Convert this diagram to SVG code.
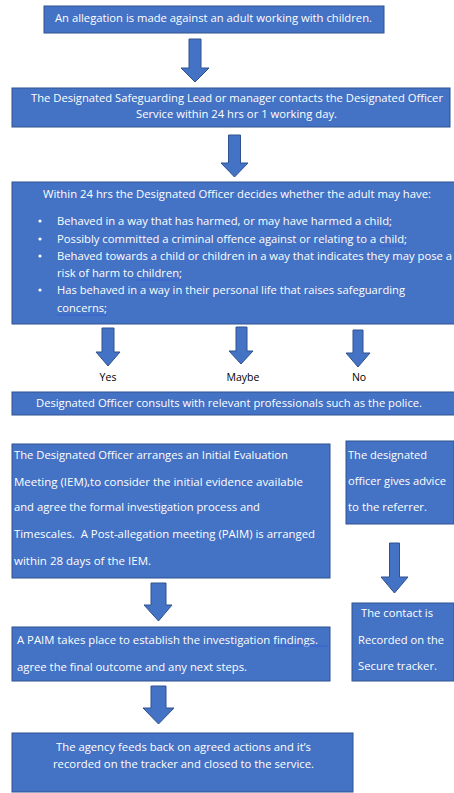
<svg xmlns="http://www.w3.org/2000/svg" width="454" height="793" viewBox="0 0 454 793">
<style>
.box{fill:#4472C4;stroke:#2F528F;stroke-width:1}
.arr{fill:#4472C4;stroke:#2F528F;stroke-width:1}
text{font-family:"Open Sans","Liberation Sans",sans-serif;font-size:10.5px;fill:#ffffff}
.c{text-anchor:middle}
.lbl{fill:#000000}
.sp{stroke:#3b5fd6;stroke-width:1;fill:none}
.pre{white-space:pre}
</style>
<rect width="454" height="793" fill="#ffffff"/>
<g id="connectors">
<polygon class="arr" points="189,39 201,39 201,68 209,68 195,82 181,68 189,68"/>
<polygon class="arr" points="228.5,135 240.5,135 240.5,163 248,163 234.5,177 221,163 228.5,163"/>
<polygon class="arr" points="102,328 114,328 114,352 120,352 108,366 96,352 102,352"/>
<polygon class="arr" points="236,327 247,327 247,351 253,351 241,364 229,351 236,351"/>
<polygon class="arr" points="353,330 363,330 363,353 370,353 358,367 346,353 353,353"/>
<polygon class="arr" points="389.5,543 399.5,543 399.5,577 408,577 394.5,593 381,577 389.5,577"/>
<polygon class="arr" points="151,583 166,583 166,605 172,605 158.5,621 144,605 151,605"/>
<polygon class="arr" points="151,686 166,686 166,708 174,708 158.5,724 143,708 151,708"/>
</g>
<g id="labels">
<text class="c lbl" x="108" y="381">Yes</text>
<text class="c lbl" x="243" y="381">Maybe</text>
<text class="c lbl" x="359" y="381">No</text>
</g>
<g id="n1">
<rect class="box" x="44" y="6" width="340" height="27"/>
<text class="c" x="213.5" y="22" textLength="317" lengthAdjust="spacingAndGlyphs">An allegation is made against an adult working with children.</text>
</g>
<g id="n2">
<rect class="box" x="12" y="88" width="438" height="39"/>
<text class="c" x="237" y="102" textLength="412" lengthAdjust="spacingAndGlyphs">The Designated Safeguarding Lead or manager contacts the Designated Officer</text>
<text class="c" x="236.5" y="118" textLength="201" lengthAdjust="spacingAndGlyphs">Service within 24 hrs or 1 working day.</text>
</g>
<g id="n3">
<rect class="box" x="12" y="182" width="443" height="142"/>
<text class="c" x="237" y="198" textLength="388" lengthAdjust="spacingAndGlyphs">Within 24 hrs the Designated Officer decides whether the adult may have:</text>
<circle cx="40" cy="221" r="1.6" fill="#ffffff"/>
<circle cx="40" cy="239" r="1.6" fill="#ffffff"/>
<circle cx="40" cy="256" r="1.6" fill="#ffffff"/>
<circle cx="40" cy="290" r="1.6" fill="#ffffff"/>
<text x="57" y="225" textLength="335" lengthAdjust="spacingAndGlyphs">Behaved in a way that has harmed, or may have harmed a child;</text>
<text x="57" y="243" textLength="350" lengthAdjust="spacingAndGlyphs">Possibly committed a criminal offence against or relating to a child;</text>
<text x="57" y="260" textLength="395" lengthAdjust="spacingAndGlyphs">Behaved towards a child or children in a way that indicates they may pose a</text>
<text x="57" y="277" textLength="125" lengthAdjust="spacingAndGlyphs">risk of harm to children;</text>
<text x="57" y="294" textLength="348" lengthAdjust="spacingAndGlyphs">Has behaved in a way in their personal life that raises safeguarding</text>
<text x="57" y="312" textLength="50" lengthAdjust="spacingAndGlyphs">concerns;</text>
<line class="sp" x1="363" y1="228" x2="392" y2="228"/>
<line class="sp" x1="379" y1="246" x2="407" y2="246"/>
<line class="sp" x1="136" y1="280" x2="182" y2="280"/>
<line class="sp" x1="57" y1="315" x2="107" y2="315"/>
</g>
<g id="n4">
<rect class="box" x="12" y="392" width="443" height="23"/>
<text class="c" x="229" y="407" textLength="386" lengthAdjust="spacingAndGlyphs">Designated Officer consults with relevant professionals such as the police.</text>
</g>
<g id="n5">
<rect class="box" x="12" y="444" width="318" height="134"/>
<text x="14" y="459" textLength="274" lengthAdjust="spacingAndGlyphs">The Designated Officer arranges an Initial Evaluation</text>
<text x="14" y="486" textLength="289" lengthAdjust="spacingAndGlyphs">Meeting (IEM),to consider the initial evidence available</text>
<text x="14" y="511" textLength="246" lengthAdjust="spacingAndGlyphs">and agree the formal investigation process and</text>
<text class="pre" x="14" y="538" textLength="301" lengthAdjust="spacingAndGlyphs">Timescales.  A Post-allegation meeting (PAIM) is arranged</text>
<text x="14" y="565" textLength="137" lengthAdjust="spacingAndGlyphs">within 28 days of the IEM.</text>
<line class="sp" x1="86" y1="488" x2="104" y2="488"/>
</g>
<g id="n6">
<rect class="box" x="346" y="441" width="108" height="83"/>
<text x="348" y="459" textLength="79" lengthAdjust="spacingAndGlyphs">The designated</text>
<text x="348" y="485" textLength="98" lengthAdjust="spacingAndGlyphs">officer gives advice</text>
<text x="348" y="511" textLength="79" lengthAdjust="spacingAndGlyphs">to the referrer.</text>
</g>
<g id="n7">
<rect class="box" x="12" y="627" width="318" height="54"/>
<text x="17" y="644" textLength="301" lengthAdjust="spacingAndGlyphs">A PAIM takes place to establish the investigation findings.</text>
<text x="17" y="671" textLength="230" lengthAdjust="spacingAndGlyphs">agree the final outcome and any next steps.</text>
<line class="sp" x1="275" y1="646" x2="328" y2="646"/>
</g>
<g id="n8">
<rect class="box" x="352" y="603" width="102" height="78"/>
<text x="361" y="617" textLength="72" lengthAdjust="spacingAndGlyphs">The contact is</text>
<text x="358" y="644" textLength="86" lengthAdjust="spacingAndGlyphs">Recorded on the</text>
<text x="358" y="670" textLength="79" lengthAdjust="spacingAndGlyphs">Secure tracker.</text>
</g>
<g id="n9">
<rect class="box" x="12" y="733" width="341" height="59"/>
<text class="c" x="183.5" y="751" textLength="255" lengthAdjust="spacingAndGlyphs">The agency feeds back on agreed actions and it’s</text>
<text class="c" x="183.5" y="768" textLength="261" lengthAdjust="spacingAndGlyphs">recorded on the tracker and closed to the service.</text>
</g>
</svg>
